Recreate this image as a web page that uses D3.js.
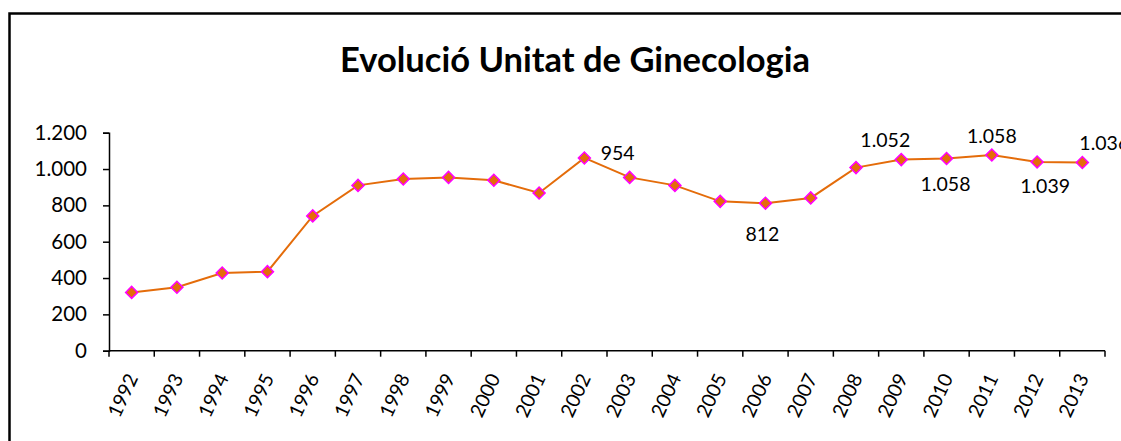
<!DOCTYPE html>
<html>
<head>
<meta charset="utf-8">
<script src="https://cdn.jsdelivr.net/npm/d3@7"></script>
<style>
  html, body { margin: 0; padding: 0; background: #fff; }
  svg { display: block; font-family: Lato, "Open Sans", sans-serif; }
</style>
</head>
<body>
<svg id="chart" width="1121" height="441"></svg>
<script>
'use strict'

// data
const years = ['1992', '1993', '1994', '1995', '1996', '1997', '1998', '1999', '2000', '2001', '2002',
  '2003', '2004', '2005', '2006', '2007', '2008', '2009', '2010', '2011', '2012', '2013']
const visits = [321, 349, 428, 435, 742, 910, 945, 954, 938, 868, 1061,
  954, 910, 822, 812, 841, 1008, 1052, 1058, 1077, 1039, 1036]
const yTicks = [0, 200, 400, 600, 800, 1000, 1200]
const labelYears = ['2003', '2006', '2009', '2010', '2011', '2012', '2013']
const labelTexts = ['954', '812', '1.052', '1.058', '1.058', '1.039', '1.036']

const title = 'Evolució Unitat de Ginecologia'

const locale = d3.formatLocale({ decimal: ',', thousands: '.', grouping: [3], currency: ['', ' €'] })
const fmt = locale.format(',d')

const svg = d3.select('#chart')

// outer frame (right and bottom edges fall outside the picture)
svg.append('rect')
  .attr('x', 9.5).attr('y', 13.5)
  .attr('width', 1200).attr('height', 500)
  .attr('fill', 'none')
  .attr('stroke', '#000')
  .attr('stroke-width', 2.5)

svg.append('text')
  .attr('x', 575).attr('y', 72)
  .attr('text-anchor', 'middle')
  .attr('font-size', 34.5)
  .attr('font-weight', 'bold')
  .attr('fill', '#000')
  .text(title)

const x = d3.scaleBand().domain(years).range([109, 1105]).padding(0)
const y = d3.scaleLinear().domain([0, 1200]).range([350.7, 132.7])
const cx = d => x(d) + x.bandwidth() / 2

// y axis
const yAxis = svg.append('g')
  .attr('transform', 'translate(109,0)')
  .call(d3.axisLeft(y).tickValues(yTicks).tickFormat(fmt).tickSize(6).tickPadding(16))
yAxis.select('.domain').attr('stroke', '#000').attr('stroke-width', 1.5)
yAxis.selectAll('.tick line').attr('stroke', '#000').attr('stroke-width', 1.5)
yAxis.selectAll('.tick text')
  .attr('font-family', 'Lato, sans-serif')
  .attr('font-size', 20.5)
  .attr('fill', '#000')

// x axis, ticks on the category boundaries
const xAxis = svg.append('g')
  .attr('transform', `translate(0,${y(0)})`)
xAxis.append('line')
  .attr('x1', x.range()[0]).attr('x2', x.range()[1])
  .attr('stroke', '#000').attr('stroke-width', 1.5)
xAxis.selectAll('line.tk')
  .data(years.map(d => x(d)).concat([x.range()[1]]))
  .join('line')
  .attr('class', 'tk')
  .attr('x1', d => d).attr('x2', d => d)
  .attr('y1', 0).attr('y2', 6)
  .attr('stroke', '#000').attr('stroke-width', 1.5)

svg.append('g')
  .selectAll('text')
  .data(years)
  .join('text')
  .attr('transform', d => `translate(${cx(d) + 7},${y(0) + 27}) rotate(-65)`)
  .attr('text-anchor', 'end')
  .attr('font-size', 19.5)
  .attr('fill', '#000')
  .text(d => d)

// series
const pts = years.map((d, i) => ({ year: d, value: visits[i] }))

svg.append('path')
  .datum(pts)
  .attr('fill', 'none')
  .attr('stroke', '#E46C0A')
  .attr('stroke-width', 2)
  .attr('d', d3.line().x(d => cx(d.year)).y(d => y(d.value)))

svg.append('g')
  .selectAll('path')
  .data(pts)
  .join('path')
  .attr('transform', d => `translate(${cx(d.year)},${y(d.value)}) rotate(45)`)
  .attr('d', d3.symbol().type(d3.symbolSquare).size(72))
  .attr('fill', '#E46C0A')
  .attr('stroke', '#FF00FF')
  .attr('stroke-width', 1.5)

// data labels, placed like the original
const labelPlace = {
  '2003': [-12, -24, 'middle'],
  '2006': [-3, 31, 'middle'],
  '2009': [-16, -19, 'middle'],
  '2010': [-1, 26, 'middle'],
  '2011': [0, -19, 'middle'],
  '2012': [8, 24, 'middle'],
  '2013': [-3, -19, 'start']
}

svg.append('g')
  .selectAll('text')
  .data(labelYears.map((d, i) => ({ year: d, text: labelTexts[i], value: visits[years.indexOf(d)] })))
  .join('text')
  .attr('x', d => cx(d.year) + labelPlace[d.year][0])
  .attr('y', d => y(d.value) + labelPlace[d.year][1])
  .attr('dy', '0.35em')
  .attr('text-anchor', d => labelPlace[d.year][2])
  .attr('font-size', 19.5)
  .attr('fill', '#000')
  .text(d => d.text)
</script>
</body>
</html>
